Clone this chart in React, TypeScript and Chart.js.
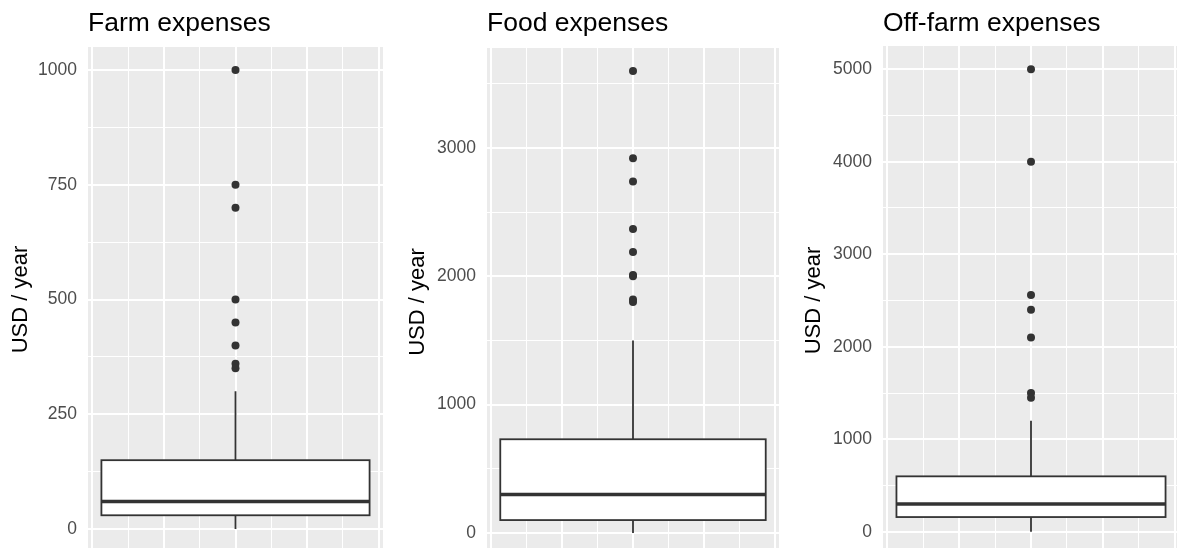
import React, { useEffect, useRef } from "react";
import { Chart, registerables } from "chart.js";

Chart.register(...registerables);

// ---------- data ----------
const panelTitles = ["Farm expenses", "Food expenses", "Off-farm expenses"];
const yAxisTitle = "USD / year";

// [lower whisker, Q1, median, Q3, upper whisker]
const farmStats = [0, 30, 60, 150, 300];
const foodStats = [0, 100, 300, 730, 1500];
const offFarmStats = [0, 160, 300, 600, 1200];

const farmOutliers = [1000, 750, 700, 500, 450, 400, 360, 350];
const foodOutliers = [3600, 2920, 2740, 2370, 2190, 2010, 2000, 1820, 1800];
const offFarmOutliers = [5000, 4000, 2560, 2400, 2100, 1500, 1450];

const farmMajorTicks = [0, 250, 500, 750, 1000];
const farmMinorTicks = [125, 375, 625, 875];
const foodMajorTicks = [0, 1000, 2000, 3000];
const foodMinorTicks = [500, 1500, 2500, 3500];
const offFarmMajorTicks = [0, 1000, 2000, 3000, 4000, 5000];
const offFarmMinorTicks = [500, 1500, 2500, 3500, 4500];

const farmRange = [-50, 1050];
const foodRange = [-180, 3780];
const offFarmRange = [-250, 5250];

const xMajorTicks = [-0.4, -0.2, 0, 0.2, 0.4];
const xMinorTicks = [-0.3, -0.1, 0.1, 0.3];
const xRange = [-0.4125, 0.4125];
const boxCenter = 0;
const boxHalfWidth = 0.375;

// ---------- layout (pixels) ----------
const CANVAS_H = 580;
const FONT = '"Liberation Sans", Arial, Helvetica, sans-serif';

const panels = [
  {
    title: panelTitles[0], stats: farmStats, outliers: farmOutliers,
    major: farmMajorTicks, minor: farmMinorTicks, range: farmRange,
    canvasLeft: 0, plotLeft: 88, plotRight: 387, top: 47, bottom: 552, yTitleX: 21,
  },
  {
    title: panelTitles[1], stats: foodStats, outliers: foodOutliers,
    major: foodMajorTicks, minor: foodMinorTicks, range: foodRange,
    canvasLeft: 395, plotLeft: 487, plotRight: 783, top: 48, bottom: 556, yTitleX: 418,
  },
  {
    title: panelTitles[2], stats: offFarmStats, outliers: offFarmOutliers,
    major: offFarmMajorTicks, minor: offFarmMinorTicks, range: offFarmRange,
    canvasLeft: 790, plotLeft: 883, plotRight: 1183, top: 46, bottom: 555, yTitleX: 814,
  },
];

const Y_TITLE_SIZE = 22;

function makePlugin(p: any) {
  return {
    id: "ggbox",
    beforeDraw(chart: any) {
      const { ctx, chartArea: a } = chart;
      ctx.save();
      ctx.fillStyle = "#EBEBEB";
      ctx.fillRect(a.left, a.top, a.right - a.left, a.bottom - a.top);
      ctx.restore();
    },
    beforeDatasetsDraw(chart: any) {
      const { ctx } = chart;
      const xs = chart.scales.x;
      const ys = chart.scales.y;
      const [mn, q1, med, q3, mx] = p.stats;
      const cx = xs.getPixelForValue(boxCenter);
      const l = xs.getPixelForValue(boxCenter - boxHalfWidth);
      const r = xs.getPixelForValue(boxCenter + boxHalfWidth);
      const yq1 = ys.getPixelForValue(q1);
      const yq3 = ys.getPixelForValue(q3);
      ctx.save();
      ctx.strokeStyle = "#333333";
      ctx.lineWidth = 1.8;
      ctx.beginPath();
      ctx.moveTo(cx, ys.getPixelForValue(mx));
      ctx.lineTo(cx, yq3);
      ctx.moveTo(cx, yq1);
      ctx.lineTo(cx, ys.getPixelForValue(mn));
      ctx.stroke();
      ctx.fillStyle = "#FFFFFF";
      ctx.fillRect(l, yq3, r - l, yq1 - yq3);
      ctx.strokeRect(l, yq3, r - l, yq1 - yq3);
      ctx.lineWidth = 3.5;
      ctx.beginPath();
      const ym = ys.getPixelForValue(med);
      ctx.moveTo(l, ym);
      ctx.lineTo(r, ym);
      ctx.stroke();
      ctx.restore();
    },
    afterDraw(chart: any) {
      const { ctx, chartArea: a } = chart;
      ctx.save();
      ctx.font = `26.5px ${FONT}`;
      ctx.fillStyle = "#000000";
      ctx.textAlign = "left";
      ctx.textBaseline = "alphabetic";
      ctx.fillText(p.title, a.left, 31);
      ctx.restore();
    },
  };
}

function Panel({ p }: { p: any }) {
  const ref = useRef<HTMLCanvasElement | null>(null);
  const width = p.plotRight - p.canvasLeft;
  const padLeft = p.yTitleX - Y_TITLE_SIZE / 2 - p.canvasLeft;
  const yWidth = p.plotLeft - p.canvasLeft - padLeft;

  useEffect(() => {
    if (!ref.current) return;
    const yTicks = [...p.major, ...p.minor].sort((a: number, b: number) => a - b);
    const xTicks = [...xMajorTicks, ...xMinorTicks].sort((a, b) => a - b);
    const chart = new Chart(ref.current, {
      type: "scatter",
      data: {
        datasets: [
          {
            data: p.outliers.map((v: number) => ({ x: boxCenter, y: v })),
            pointRadius: 4,
            pointHoverRadius: 4,
            backgroundColor: "#333333",
            borderWidth: 0,
          },
        ],
      },
      plugins: [makePlugin(p)],
      options: {
        responsive: false,
        animation: false,
        events: [],
        layout: {
          padding: { left: padLeft, top: p.top, right: 0, bottom: CANVAS_H - p.bottom },
        },
        plugins: { legend: { display: false }, tooltip: { enabled: false }, title: { display: false } },
        scales: {
          x: {
            type: "linear",
            position: "bottom",
            min: xRange[0],
            max: xRange[1],
            bounds: "data",
            afterBuildTicks: (axis: any) => {
              axis.ticks = xTicks.map((v) => ({ value: v }));
            },
            afterFit: (axis: any) => {
              axis.height = 0;
            },
            ticks: { display: false },
            border: { display: false },
            grid: {
              color: "#FFFFFF",
              drawTicks: false,
              lineWidth: (c: any) => (xMajorTicks.includes(c.tick?.value) ? 2 : 1),
            },
          },
          y: {
            type: "linear",
            position: "left",
            min: p.range[0],
            max: p.range[1],
            bounds: "data",
            afterBuildTicks: (axis: any) => {
              axis.ticks = yTicks.map((v: number) => ({ value: v }));
            },
            afterFit: (axis: any) => {
              axis.width = yWidth;
            },
            ticks: {
              autoSkip: false,
              padding: 11,
              color: "#4D4D4D",
              font: { family: FONT, size: 17.5 },
              callback: (v: any) => (p.major.includes(v) ? String(v) : ""),
            },
            border: { display: false },
            grid: {
              color: "#FFFFFF",
              drawTicks: false,
              lineWidth: (c: any) => (p.major.includes(c.tick?.value) ? 2 : 1),
            },
            title: {
              display: true,
              text: yAxisTitle,
              color: "#000000",
              padding: 0,
              font: { family: FONT, size: Y_TITLE_SIZE, lineHeight: 1 },
            },
          },
        },
      },
    } as any);
    return () => chart.destroy();
  }, []);

  return (
    <canvas
      ref={ref}
      width={width}
      height={CANVAS_H}
      style={{ position: "absolute", left: p.canvasLeft, top: 0 }}
    />
  );
}

export default function App() {
  return (
    <div
      style={{
        position: "fixed",
        left: 0,
        top: 0,
        width: 1177,
        height: 548,
        overflow: "hidden",
        background: "#FFFFFF",
      }}
    >
      {panels.map((p, i) => (
        <Panel key={i} p={p} />
      ))}
    </div>
  );
}
